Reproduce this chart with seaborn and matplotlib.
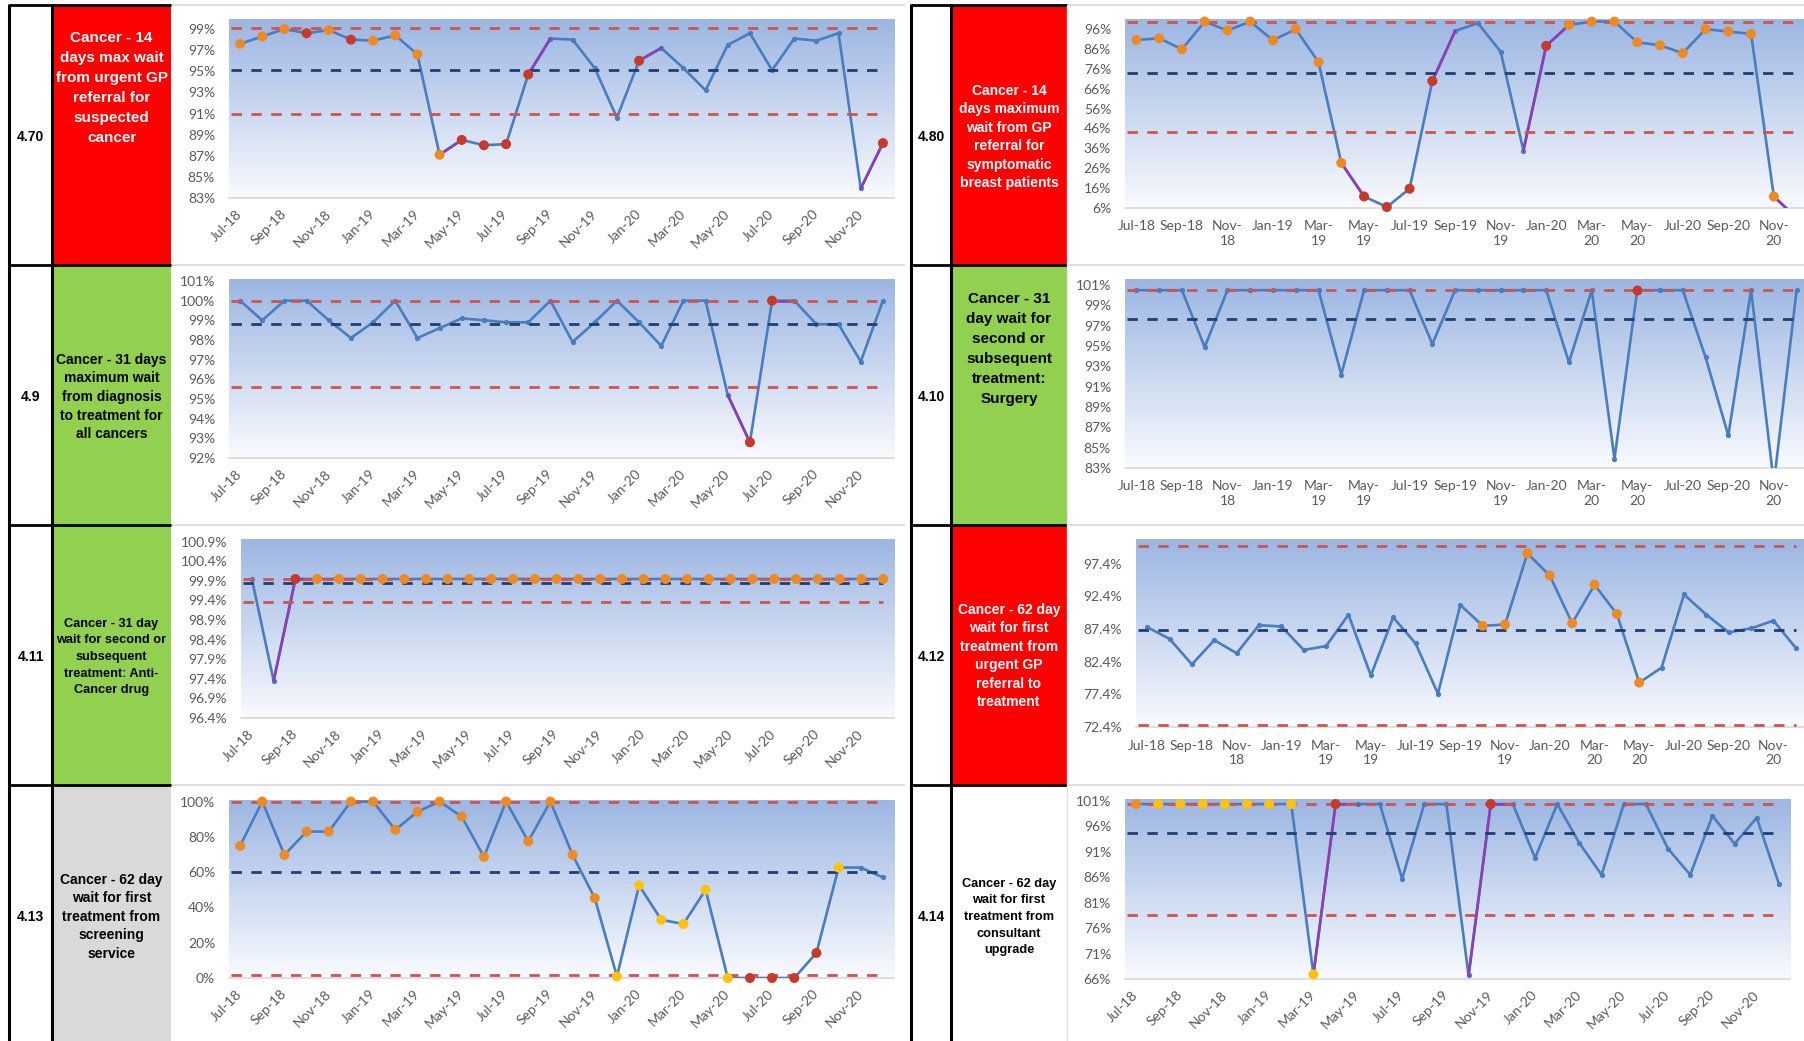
import numpy as np
import pandas as pd
import matplotlib
matplotlib.use("Agg")
import matplotlib.pyplot as plt
from matplotlib.patches import Rectangle
import seaborn as sns

sns.set_theme(style="white")
plt.rcParams["font.family"] = ["Liberation Sans", "DejaVu Sans"]
plt.rcParams["lines.scale_dashes"] = False

W, H = 1804, 1041

# ---------------------------------------------------------------- data
months = ["Jul-18", "Aug-18", "Sep-18", "Oct-18", "Nov-18", "Dec-18",
          "Jan-19", "Feb-19", "Mar-19", "Apr-19", "May-19", "Jun-19",
          "Jul-19", "Aug-19", "Sep-19", "Oct-19", "Nov-19", "Dec-19",
          "Jan-20", "Feb-20", "Mar-20", "Apr-20", "May-20", "Jun-20",
          "Jul-20", "Aug-20", "Sep-20", "Oct-20", "Nov-20", "Dec-20"]

ticks_slanted = ["Jul-18", "Sep-18", "Nov-18", "Jan-19", "Mar-19", "May-19",
                 "Jul-19", "Sep-19", "Nov-19", "Jan-20", "Mar-20", "May-20",
                 "Jul-20", "Sep-20", "Nov-20"]
ticks_wrapped = ["Jul-18", "Sep-18", "Nov-\n18", "Jan-19", "Mar-\n19", "May-\n19",
                 "Jul-19", "Sep-19", "Nov-\n19", "Jan-20", "Mar-\n20", "May-\n20",
                 "Jul-20", "Sep-20", "Nov-\n20"]

# marker codes: o = orange, r = red, y = yellow, . = plain point
# control limits are (upper, mean, lower)

lab470 = ["Cancer - 14", "days max wait", "from urgent GP", "referral for",
          "suspected", "cancer"]
v470 = [97.6, 98.3, 99.0, 98.6, 98.9, 98.0, 97.9, 98.4, 96.6, 87.1,
        88.5, 88.0, 88.1, 94.7, 98.1, 98.0, 95.3, 90.6, 96.0, 97.2,
        95.3, 93.2, 97.5, 98.6, 95.1, 98.1, 97.9, 98.6, 83.9, 88.2]
ctl470 = (99.1, 95.1, 91.0)
mk470 = "ooororoooorrrr....r..........r"
pu470 = [9, 13, 18, 28]
yt470 = [83, 85, 87, 89, 91, 93, 95, 97, 99]
yl470 = ["83%", "85%", "87%", "89%", "91%", "93%", "95%", "97%", "99%"]

lab480 = ["Cancer - 14", "days maximum", "wait from GP", "referral for",
          "symptomatic", "breast patients"]
v480 = [90.5, 91.3, 85.8, 99.7, 95.2, 99.7, 90.3, 95.9, 79.3, 28.7,
        11.8, 6.5, 15.7, 69.8, 95.0, 98.9, 84.6, 34.9, 87.5, 98.0,
        99.7, 99.7, 89.3, 87.8, 83.8, 95.9, 94.7, 93.5, 11.8, 1.0]
ctl480 = (99.7, 74.1, 44.1)
mk480 = "oooooooooorrrr....roooooooooo."
pu480 = [9, 13, 17, 18, 28]
yt480 = [6, 16, 26, 36, 46, 56, 66, 76, 86, 96]
yl480 = ["6%", "16%", "26%", "36%", "46%", "56%", "66%", "76%", "86%", "96%"]

lab49 = ["Cancer - 31 days", "maximum wait", "from diagnosis",
         "to treatment for", "all cancers"]
v49 = [100.0, 99.0, 100.0, 100.0, 99.0, 98.1, 98.9, 100.0, 98.1, 98.6,
       99.1, 99.0, 98.9, 98.9, 100.0, 97.9, 98.9, 100.0, 98.9, 97.7,
       100.0, 100.0, 95.2, 92.8, 100.0, 100.0, 98.8, 98.8, 96.9, 100.0]
ctl49 = (100.0, 98.8, 95.6)
mk49 = ".......................rr....."
pu49 = [22, 24]
yt49 = [92, 93, 94, 95, 96, 97, 98, 99, 100, 101]
yl49 = ["92%", "93%", "94%", "95%", "96%", "97%", "98%", "99%", "100%", "101%"]

lab410 = ["Cancer - 31", "day wait for", "second or", "subsequent",
          "treatment:", "Surgery"]
v410 = [100.0, 100.0, 100.0, 94.4, 100.0, 100.0, 100.0, 100.0, 100.0, 91.7,
        100.0, 100.0, 100.0, 94.7, 100.0, 100.0, 100.0, 100.0, 100.0, 92.9,
        100.0, 83.4, 100.0, 100.0, 100.0, 93.4, 85.7, 100.0, 81.0, 100.0]
ctl410 = (100.0, 97.2, None)
mk410 = "......................r......."
pu410 = []
yt410 = [82.5, 84.5, 86.5, 88.5, 90.5, 92.5, 94.5, 96.5, 98.5, 100.5]
yl410 = ["83%", "85%", "87%", "89%", "91%", "93%", "95%", "97%", "99%", "101%"]

lab411 = ["Cancer - 31 day", "wait for second or", "subsequent",
          "treatment: Anti-", "Cancer drug"]
v411 = [100.0, 97.4, 100.0, 100.0, 100.0, 100.0, 100.0, 100.0, 100.0, 100.0,
        100.0, 100.0, 100.0, 100.0, 100.0, 100.0, 100.0, 100.0, 100.0, 100.0,
        100.0, 100.0, 100.0, 100.0, 100.0, 100.0, 100.0, 100.0, 100.0, 100.0]
ctl411 = (100.0, 99.9, 99.4)
mk411 = "..rooooooooooooooooooooooooooo"
pu411 = [1, 2]
yt411 = [96.45, 96.95, 97.45, 97.95, 98.45, 98.95, 99.45, 99.95, 100.45, 100.95]
yl411 = ["96.4%", "96.9%", "97.4%", "97.9%", "98.4%", "98.9%", "99.4%",
         "99.9%", "100.4%", "100.9%"]

lab412 = ["Cancer - 62 day", "wait for first", "treatment from", "urgent GP",
          "referral to", "treatment"]
v412 = [87.7, 85.9, 82.0, 85.7, 83.7, 88.0, 87.8, 84.2, 84.8, 89.6,
        80.3, 89.2, 85.2, 77.5, 91.1, 87.9, 88.1, 99.0, 95.6, 88.3,
        94.2, 89.7, 79.2, 81.5, 92.7, 89.6, 86.9, 87.5, 88.7, 84.5]
ctl412 = (100.2, 87.2, 72.7)
mk412 = "...............oooooooo......."
pu412 = []
yt412 = [72.4, 77.4, 82.4, 87.4, 92.4, 97.4]
yl412 = ["72.4%", "77.4%", "82.4%", "87.4%", "92.4%", "97.4%"]

lab413 = ["Cancer - 62 day", "wait for first", "treatment from", "screening",
          "service"]
v413 = [74.9, 100.0, 69.8, 83.0, 83.0, 100.0, 100.0, 84.0, 94.2, 100.0,
        91.5, 68.7, 100.0, 77.5, 100.0, 69.8, 45.3, 0.9, 52.5, 33.0,
        30.6, 50.0, 0.0, 0.0, 0.0, 0.0, 14.2, 62.6, 62.6, 57.0]
ctl413 = (100.0, 60.2, 1.9)
mk413 = "oooooooooooooooooyyyyyyrrrry.."
pu413 = []
yt413 = [0, 20, 40, 60, 80, 100]
yl413 = ["0%", "20%", "40%", "60%", "80%", "100%"]

lab414 = ["Cancer - 62 day", "wait for first", "treatment from", "consultant",
          "upgrade"]
v414 = [100.0, 100.0, 100.0, 100.0, 100.0, 100.0, 100.0, 100.0, 66.5, 100.0,
        100.0, 100.0, 85.3, 100.0, 100.0, 66.3, 100.0, 100.0, 89.4, 100.0,
        92.3, 86.1, 100.0, 100.0, 91.2, 86.1, 97.7, 92.2, 97.3, 84.3]
ctl414 = (100.0, 94.4, 78.1)
mk414 = "oyyyyyyyyr......r............."
pu414 = [8, 9, 15, 16]
yt414 = [65.6, 70.6, 75.6, 80.6, 85.6, 90.6, 95.6, 100.6]
yl414 = ["66%", "71%", "76%", "81%", "86%", "91%", "96%", "101%"]

# ---------------------------------------------------------------- styles
LINE_BLUE = "#4A7DBE"
PURPLE = "#8C3FB2"
LIMIT_RED = "#CD5451"
MEAN_NAVY = "#1F3F73"
DOT_COLORS = {"o": "#EE8A24", "r": "#C8392B", "y": "#FFC20E"}
TICK_GREY = "#595959"
CELL_RED, CELL_GREEN, CELL_GREY, CELL_WHITE = "#FF0000", "#92D050", "#D9D9D9", "#FFFFFF"

ROW_TOPS = [5, 265, 525, 785]
COLS = [dict(id=(9, 52), label=(52, 171), chart=(171, 905)),
        dict(id=(911, 951), label=(951, 1067), chart=(1067, 1804))]

panels = [
    dict(code="4.70", row=0, col=0, fill=CELL_RED, ink="white", lines=lab470, cy=88, step=20, fs=11,
         vals=v470, ctl=ctl470, marks=mk470, purple=pu470, yt=yt470, yl=yl470,
         ylim=(83, 99.95), xl=ticks_slanted, slanted=True, box=(229, 19, 894, 198)),
    dict(code="4.80", row=0, col=1, fill=CELL_RED, ink="white", lines=lab480, cy=137, step=18.5, fs=10,
         vals=v480, ctl=ctl480, marks=mk480, purple=pu480, yt=yt480, yl=yl480,
         ylim=(6, 101), xl=ticks_wrapped, slanted=False, box=(1125, 19, 1808, 208)),
    dict(code="4.9", row=1, col=0, fill=CELL_GREEN, ink="black", lines=lab49, cy=397, step=18.7, fs=10,
         vals=v49, ctl=ctl49, marks=mk49, purple=pu49, yt=yt49, yl=yl49,
         ylim=(92, 101.1), xl=ticks_slanted, slanted=True, box=(229, 279, 894, 458)),
    dict(code="4.10", row=1, col=1, fill=CELL_GREEN, ink="black", lines=lab410, cy=349, step=20, fs=11,
         vals=v410, ctl=ctl410, marks=mk410, purple=pu410, yt=yt410, yl=yl410,
         ylim=(82.5, 101.1), xl=ticks_wrapped, slanted=False, box=(1125, 279, 1808, 468)),
    dict(code="4.11", row=2, col=0, fill=CELL_GREEN, ink="black", lines=lab411, cy=657, step=16.7, fs=9.2,
         vals=v411, ctl=ctl411, marks=mk411, purple=pu411, yt=yt411, yl=yl411,
         ylim=(96.45, 101.02), xl=ticks_slanted, slanted=True, box=(241, 539, 894, 718)),
    dict(code="4.12", row=2, col=1, fill=CELL_RED, ink="white", lines=lab412, cy=656, step=18.5, fs=10,
         vals=v412, ctl=ctl412, marks=mk412, purple=pu412, yt=yt412, yl=yl412,
         ylim=(72.4, 101.2), xl=ticks_wrapped, slanted=False, box=(1136, 539, 1807, 727)),
    dict(code="4.13", row=3, col=0, fill=CELL_GREY, ink="black", lines=lab413, cy=917, step=18.5, fs=10,
         vals=v413, ctl=ctl413, marks=mk413, purple=pu413, yt=yt413, yl=yl413,
         ylim=(0, 100.9), xl=ticks_slanted, slanted=True, box=(229, 800, 894, 978)),
    dict(code="4.14", row=3, col=1, fill=CELL_WHITE, ink="black", lines=lab414, cy=917, step=16.7, fs=9.2,
         vals=v414, ctl=ctl414, marks=mk414, purple=pu414, yt=yt414, yl=yl414,
         ylim=(65.6, 101.0), xl=ticks_slanted, slanted=True, box=(1125, 799, 1790, 979)),
]

# ---------------------------------------------------------------- figure
fig = plt.figure(figsize=(W / 100, H / 100), dpi=100, facecolor="white")

# table grid drawn in pixel coordinates
grid = fig.add_axes([0, 0, 1, 1], zorder=-1)
grid.set_xlim(0, W)
grid.set_ylim(H, 0)
grid.axis("off")

def row_bottom(r):
    return ROW_TOPS[r + 1] if r + 1 < len(ROW_TOPS) else H

for p in panels:
    c = COLS[p["col"]]
    top, bot = ROW_TOPS[p["row"]], row_bottom(p["row"])
    lx0, lx1 = c["label"]
    grid.add_patch(Rectangle((lx0, top), lx1 - lx0, bot - top, facecolor=p["fill"], lw=0))
    ix0, ix1 = c["id"]
    grid.text((ix0 + ix1) / 2, top + 132, p["code"], ha="center", va="center",
              fontsize=10, fontweight="bold", color="black")
    n = len(p["lines"])
    for k, line in enumerate(p["lines"]):
        y = p["cy"] + (k - (n - 1) / 2) * p["step"]
        grid.text((lx0 + lx1) / 2, y, line, ha="center", va="center",
                  fontsize=p["fs"], fontweight="bold", color=p["ink"])

# light chart-cell rules and black table borders
for c in COLS:
    cx0, cx1 = c["chart"]
    for t in ROW_TOPS:
        grid.plot([cx0, cx1], [t, t], color="#DCDCDC", lw=1.4, solid_capstyle="butt")
    x_left = c["id"][0]
    x_mid = c["id"][1]
    for x in (x_left, x_mid):
        grid.plot([x, x], [ROW_TOPS[0] - 1, H], color="black", lw=2.2, solid_capstyle="butt")
    for t in ROW_TOPS:
        grid.plot([c["id"][0], c["label"][1]], [t, t], color="black", lw=2.0, solid_capstyle="butt")
grid.plot([1067, 1067], [ROW_TOPS[0], H], color="#E4E4E4", lw=1.0)

# background gradient of every plot area
top_rgb = np.array([0.612, 0.714, 0.886])
bot_rgb = np.array([0.976, 0.982, 0.996])
t = np.linspace(0, 1, 256)[:, None]
gradient = (top_rgb * (1 - t) + bot_rgb * t)[:, None, :]


def px_axes(box):
    x0, y0, x1, y1 = box
    return fig.add_axes([x0 / W, 1 - y1 / H, (x1 - x0) / W, (y1 - y0) / H])


for p in panels:
    ax = px_axes(p["box"])
    ax.imshow(gradient, extent=(0, 1, 0, 1), transform=ax.transAxes,
              aspect="auto", zorder=0, interpolation="bilinear")

    df = pd.DataFrame({"idx": np.arange(len(months)), "month": months,
                       "value": p["vals"], "mark": list(p["marks"])})

    sns.lineplot(data=df, x="idx", y="value", ax=ax, color=LINE_BLUE, linewidth=1.9,
                 marker="o", markersize=3.8, markeredgewidth=0, zorder=3)
    for s in p["purple"]:
        seg = df.iloc[s:s + 2]
        sns.lineplot(data=seg, x="idx", y="value", ax=ax, color=PURPLE,
                     linewidth=1.9, zorder=3.2)

    ucl, mean, lcl = p["ctl"]
    for level, col in ((ucl, LIMIT_RED), (lcl, LIMIT_RED), (mean, MEAN_NAVY)):
        if level is None:
            continue
        ax.plot([-0.4, 29.0], [level, level], color=col, lw=2.0,
                dashes=(7.5, 6.8), zorder=3.5)

    dots = df[df["mark"] != "."]
    if len(dots):
        pal = {k: DOT_COLORS[k] for k in dots["mark"].unique()}
        sns.scatterplot(data=dots, x="idx", y="value", hue="mark", palette=pal,
                        s=52, linewidth=0, legend=False, ax=ax, zorder=5, clip_on=False)

    ax.set_xlim(-0.5, 29.5)
    ax.set_ylim(*p["ylim"])
    ax.set_xlabel("")
    ax.set_ylabel("")
    ax.set_yticks(p["yt"])
    ax.set_yticklabels(p["yl"])
    ax.set_xticks(np.arange(0, len(months), 2))
    ax.set_xticklabels(p["xl"])
    ax.tick_params(axis="both", length=0, colors=TICK_GREY, labelsize=10)
    ax.tick_params(axis="y", pad=10)
    for lab in ax.get_yticklabels() + ax.get_xticklabels():
        lab.set_fontfamily("Lato")
    if p["slanted"]:
        ax.tick_params(axis="x", pad=10)
        for lab in ax.get_xticklabels():
            lab.set_rotation(45)
            lab.set_ha("right")
            lab.set_va("center")
            lab.set_rotation_mode("anchor")
    else:
        ax.tick_params(axis="x", pad=9)
        for lab in ax.get_xticklabels():
            lab.set_linespacing(1.25)
    for side in ("top", "left", "right"):
        ax.spines[side].set_visible(False)
    ax.spines["bottom"].set_color("#D9D9D9")
    ax.spines["bottom"].set_linewidth(1.2)
    ax.grid(False)

fig.savefig("out.png", dpi=100, facecolor="white")
